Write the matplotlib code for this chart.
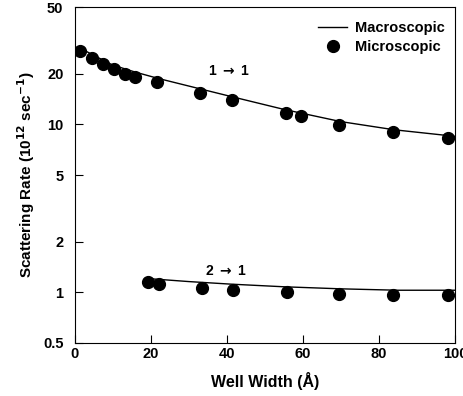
import numpy as np
import matplotlib
matplotlib.use('Agg')
import matplotlib.pyplot as plt
import matplotlib.ticker as ticker

plt.rcParams['font.family'] = ['Liberation Sans', 'DejaVu Sans']
plt.rcParams['font.weight'] = 'bold'

# mikroskopowe (punkty) 1 -> 1
x_mik_11 = [1.5, 4.5, 7.4, 10.3, 13.2, 15.8, 21.6, 33.0, 41.4, 55.6, 59.5, 69.6, 83.8, 98.0]
y_mik_11 = [27.5, 25.0, 23.0, 21.5, 20.1, 19.3, 18.0, 15.3, 13.9, 11.7, 11.2, 9.9, 9.0, 8.3]

# mikroskopowe (punkty) 2 -> 1
x_mik_21 = [19.2, 22.1, 33.4, 41.7, 55.7, 69.6, 83.8, 98.0]
y_mik_21 = [1.15, 1.12, 1.06, 1.03, 1.00, 0.98, 0.97, 0.97]

# makroskopowe (linie)
x_mak_11 = [1.5, 4.5, 10, 16, 22, 33, 41, 55, 70, 84, 100]
y_mak_11 = [28.5, 26.2, 22.6, 20.5, 18.8, 16.3, 14.7, 12.3, 10.4, 9.3, 8.5]
x_mak_21 = [19, 30, 41, 55, 70, 85, 100]
y_mak_21 = [1.21, 1.16, 1.12, 1.08, 1.05, 1.03, 1.03]

fig = plt.figure(figsize=(4.63, 3.96), dpi=100)
ax = fig.add_axes([0.161, 0.134, 0.822, 0.848])

ax.plot(x_mak_11, y_mak_11, 'k-', linewidth=1.0, label='Macroscopic')
ax.plot(x_mak_21, y_mak_21, 'k-', linewidth=1.0)
ax.plot(x_mik_11, y_mik_11, 'ko', markersize=8.5, linestyle='none', label='Microscopic')
ax.plot(x_mik_21, y_mik_21, 'ko', markersize=8.5, linestyle='none')

ax.set_yscale('log')
ax.set_xlim(0, 100)
ax.set_ylim(0.5, 50)
ax.yaxis.set_major_locator(ticker.FixedLocator([0.5, 1, 2, 5, 10, 20, 50]))
ax.yaxis.set_major_formatter(ticker.FixedFormatter(['0.5', '1', '2', '5', '10', '20', '50']))
ax.yaxis.set_minor_locator(ticker.NullLocator())
ax.set_xticks([0, 20, 40, 60, 80, 100])
ax.tick_params(axis='both', which='major', direction='in', length=6, labelsize=10.5, width=0.8)
ax.tick_params(axis='y', pad=8)
ax.tick_params(axis='x', pad=3)
for lab in ax.get_xticklabels() + ax.get_yticklabels():
    lab.set_fontweight('bold')

ax.text(40.5, 20.7, r'1 $\rightarrow$ 1', fontsize=10, fontweight='bold', ha='center', va='center')
ax.text(39.8, 1.34, r'2 $\rightarrow$ 1', fontsize=10, fontweight='bold', ha='center', va='center')

ax.set_xlabel('Well Width (Å)', fontsize=11.5, fontweight='bold', labelpad=8)
ax.set_ylabel(r'Scattering Rate (10$^{12}$ sec$^{-1}$)', fontsize=11, fontweight='bold', labelpad=4)

ax.legend(loc='upper right', bbox_to_anchor=(0.995, 0.985), frameon=False, fontsize=10.5,
          handlelength=2.0, handletextpad=0.5, labelspacing=0.35, borderaxespad=0.2)

plt.savefig('out.png', dpi=100)
